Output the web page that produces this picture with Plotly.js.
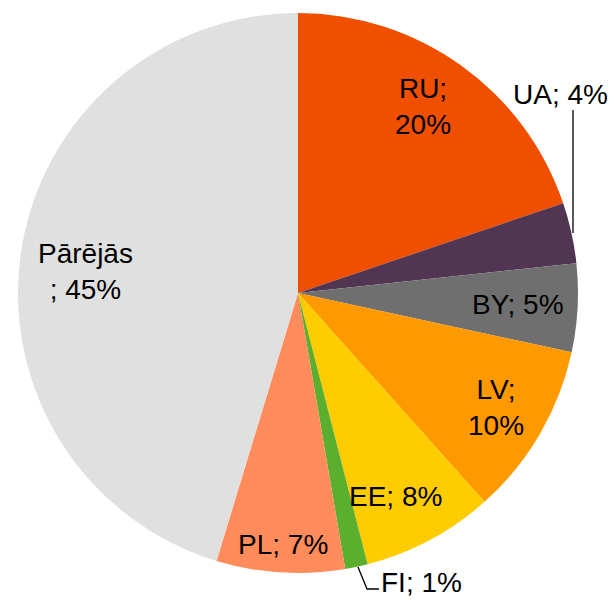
<!DOCTYPE html>
<html>
<head>
<meta charset="utf-8">
<script src="https://cdn.plot.ly/plotly-3.0.1.min.js"></script>
<style>html,body{margin:0;padding:0;background:#fff;}</style>
</head>
<body>
<div id="chart" style="width:612px;height:599px;"></div>
<script>
const labels = ['RU', 'UA', 'BY', 'LV', 'EE', 'FI', 'PL', 'Pārējās'];
const values = [19.8, 3.5, 5.1, 10.0, 7.6, 1.3, 7.4, 45.3];
const colors = ['#F04F00', '#513553', '#6F6F6F', '#FF9900', '#FFCC00', '#5CAE2F', '#FF8C5A', '#E0E0E0'];
const seps = [';<br>', '; ', '; ', ';<br>', '; ', '; ', '; ', '<br>; '];

// label anchor positions in pixels (text placement only)
const labelPos = [[423, 107], [560, 94], [518, 305], [496, 408], [395, 496], [421, 582], [283, 544], [85, 271]];

const L = 18, T = 13, S = 560;
const px2x = p => (p - L) / S;
const py2y = p => (T + S - p) / S;

const total = values.reduce((a, b) => a + b, 0);
const annotations = labels.map((lab, i) => ({
  xref: 'paper', yref: 'paper',
  x: px2x(labelPos[i][0]), y: py2y(labelPos[i][1]),
  xanchor: 'center', yanchor: 'middle',
  text: lab + seps[i] + Math.round(values[i] / total * 100) + '%',
  showarrow: false,
  font: {family: 'Liberation Sans, Arial, sans-serif', size: 28, color: '#000'}
}));

const lineStyle = {color: '#000', width: 1.3};
const shapes = [
  {type: 'line', xref: 'paper', yref: 'paper', x0: px2x(573), y0: py2y(110), x1: px2x(573), y1: py2y(233), line: lineStyle},
  {type: 'path', xref: 'paper', yref: 'paper',
   path: 'M ' + px2x(358) + ',' + py2y(567) + ' L ' + px2x(367) + ',' + py2y(589) + ' L ' + px2x(379) + ',' + py2y(589),
   line: lineStyle}
];

const data = [{
  type: 'pie',
  labels: labels,
  values: values,
  sort: false,
  direction: 'clockwise',
  rotation: 0,
  marker: {colors: colors, line: {width: 0}},
  textinfo: 'none',
  hoverinfo: 'label+percent',
  showlegend: false
}];

const layout = {
  width: 612, height: 599,
  margin: {l: L, r: 612 - L - S, t: T, b: 599 - T - S},
  paper_bgcolor: '#fff',
  showlegend: false,
  annotations: annotations,
  shapes: shapes
};

Plotly.newPlot('chart', data, layout, {displayModeBar: false, staticPlot: true});
</script>
</body>
</html>
